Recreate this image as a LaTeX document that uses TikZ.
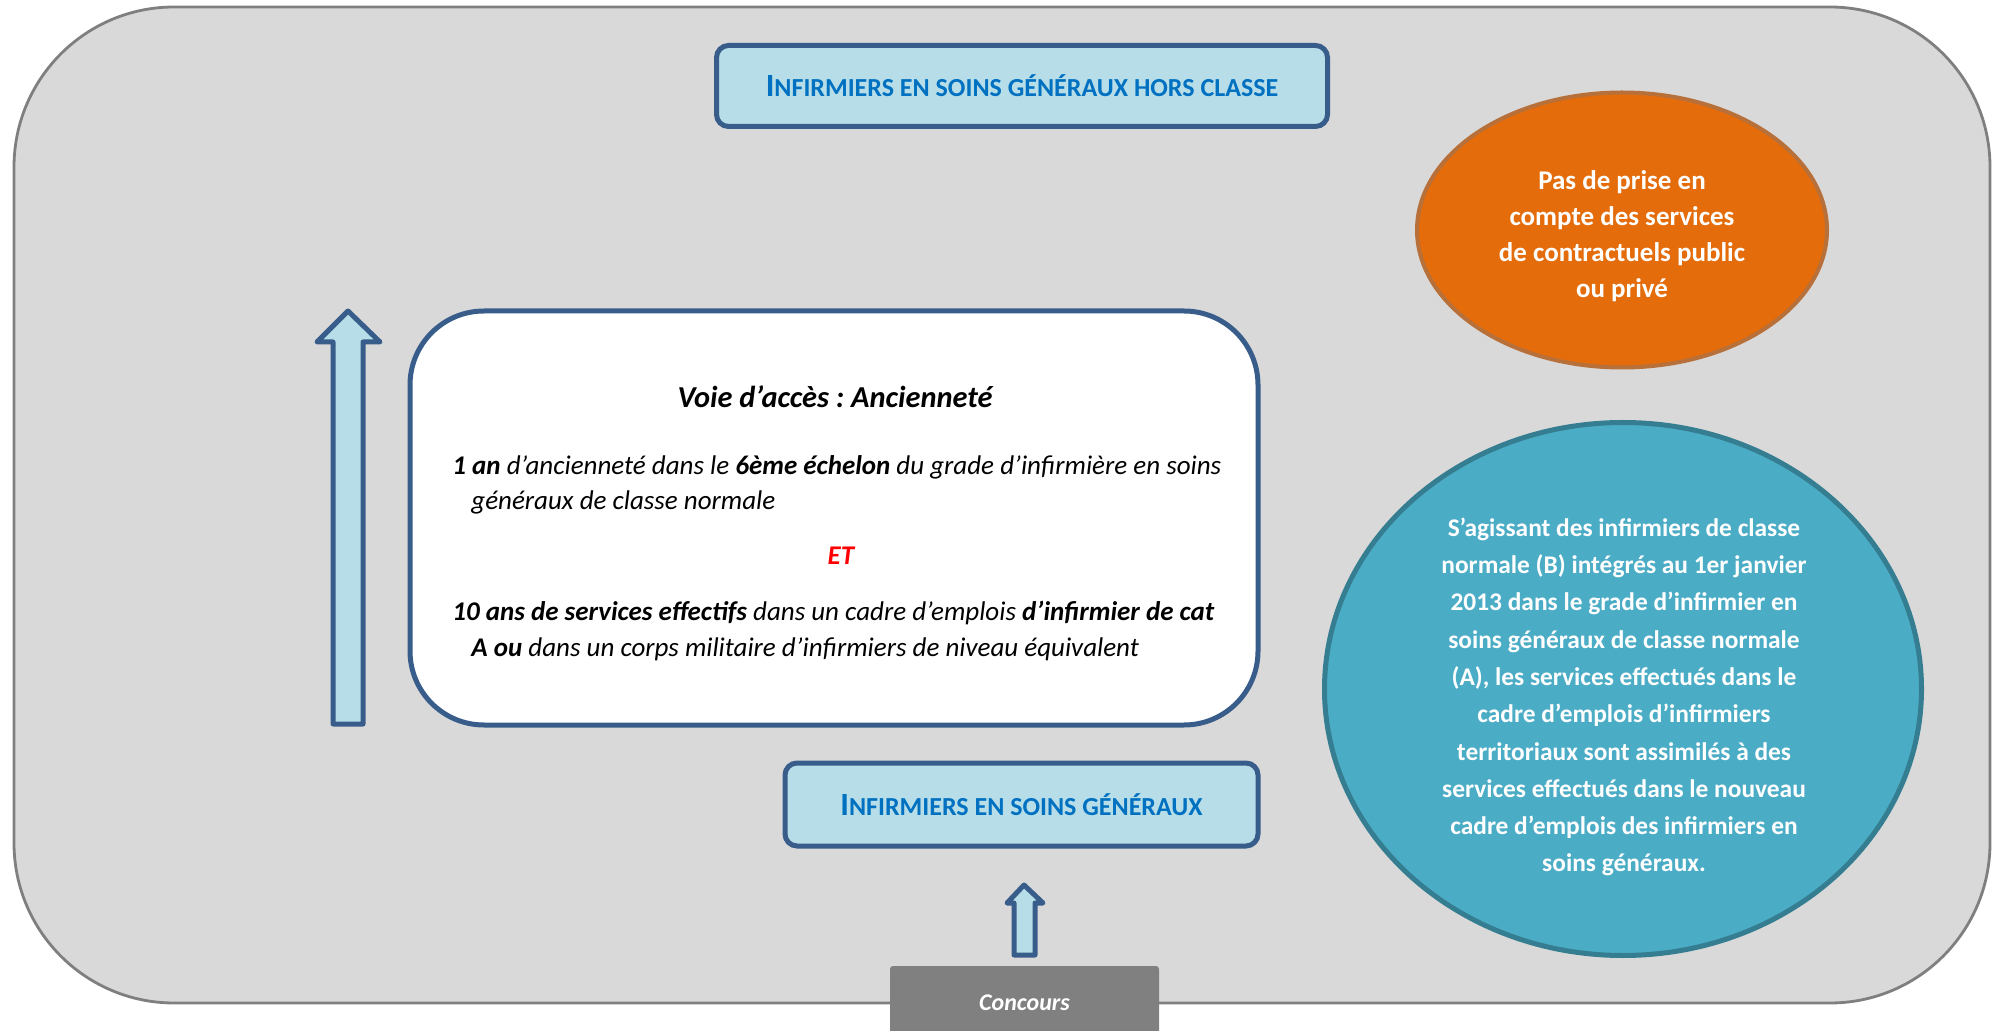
\documentclass[tikz,border=0pt]{standalone}
\usepackage{fontspec}
\setmainfont{Carlito}
\usetikzlibrary{shapes.geometric}
\frenchspacing
\definecolor{framefill}{HTML}{D9D9D9}
\definecolor{frameline}{HTML}{7F7F7F}
\definecolor{boxfill}{HTML}{B7DEE8}
\definecolor{boxline}{HTML}{385D8A}
\definecolor{titleblue}{HTML}{0070C0}
\definecolor{orangefill}{HTML}{E46C0A}
\definecolor{orangeline}{HTML}{B8703A}
\definecolor{tealfill}{HTML}{4BACC6}
\definecolor{tealline}{HTML}{357D91}
\definecolor{concoursfill}{HTML}{808080}
\definecolor{etred}{HTML}{FF0000}
\newcommand{\fakesmallcaps}[2]{{\fontsize{16.2}{19}\selectfont #1}{\fontsize{13}{15}\selectfont #2}}
\tikzset{
  gradebox/.style={draw=boxline, fill=boxfill, line width=2.5pt, rounded corners=6pt,
    inner sep=0pt, text=titleblue, font=\bfseries},
  mainbox/.style={draw=boxline, fill=white, line width=2.5pt, rounded corners=37pt, inner sep=0pt},
  blockarrow/.style={draw=boxline, fill=boxfill, line width=2.5pt, line join=round},
  bodyline/.style={anchor=base west, inner sep=0pt, font=\itshape\fontsize{13.5}{15}\selectfont},
  bubble/.style={ellipse, inner sep=0pt},
  bubbletext/.style={inner sep=0pt, align=center, text=white},
}
\begin{document}
\begin{tikzpicture}[x=0.5pt,y=-0.5pt]
\useasboundingbox (0,0) rectangle (1992,1031);
\clip (0,0) rectangle (1992,1031);
% outer frame
\draw[fill=framefill, draw=frameline, line width=1.4pt, rounded corners=80pt] (14,7) rectangle (1990,1003);

% grade boxes
\node[gradebox, minimum width=305.5pt, minimum height=40.5pt] (hors) at (1022,86)
  {\fakesmallcaps{I}{NFIRMIERS EN SOINS GÉNÉRAUX HORS CLASSE}};
\node[gradebox, minimum width=236.5pt, minimum height=41.5pt] (normal) at (1021.5,804.5)
  {\fakesmallcaps{I}{NFIRMIERS EN SOINS GÉNÉRAUX}};

% main box
\node[mainbox, minimum width=424pt, minimum height=207pt] (voie) at (834,518) {};
\node[inner sep=0pt, font=\bfseries\itshape\fontsize{15.2}{17}\selectfont] (titre) at (835,397) {Voie d’accès : Ancienneté};
\node[bodyline] (c1a) at (452,475) {\textbf{1 an} d’ancienneté dans le \textbf{6ème échelon} du grade d’infirmière en soins};
\node[bodyline] (c1b) at (471,510) {généraux de classe normale};
\node[inner sep=0pt, text=etred, font=\bfseries\itshape\fontsize{13.5}{15}\selectfont] (et) at (841,556) {ET};
\node[bodyline] (c2a) at (452,621) {\textbf{10 ans de services effectifs} dans un cadre d{\char39}emplois \textbf{d’infirmier de cat}};
\node[bodyline] (c2b) at (471,657) {\textbf{A ou} dans un corps militaire d’infirmiers de niveau équivalent};

% left block arrow
\draw[blockarrow] (333,724) -- (333,342) -- (317,342) -- (348,311) -- (380,342) -- (363,342) -- (363,724) -- cycle;

% bubbles
\node[bubble, draw=orangeline, fill=orangefill, line width=2pt,
  minimum width=205pt, minimum height=137.5pt] (orange) at (1622,230) {};
\node[bubbletext, font=\bfseries\fontsize{13.5}{18}\selectfont] (orangetext) at (1622,236)
  {Pas de prise en\\compte des services\\de contractuels public\\ou privé};
\node[bubble, draw=tealline, fill=tealfill, line width=2.5pt,
  minimum width=298.5pt, minimum height=266.5pt] (teal) at (1623,689) {};
\node[bubbletext, font=\bfseries\fontsize{12.7}{18.65}\selectfont] (tealtext) at (1624,697)
  {S’agissant des infirmiers de classe\\normale (B) intégrés au 1er janvier\\2013 dans le grade d’infirmier en\\soins généraux de classe normale\\(A), les services effectués dans le\\cadre d’emplois d’infirmiers\\territoriaux sont assimilés à des\\services effectués dans le nouveau\\cadre d’emplois des infirmiers en\\soins généraux.};

% concours
\node[fill=concoursfill, rounded corners=1.5pt, minimum width=134.5pt, minimum height=37pt,
  inner sep=0pt, text=white, font=\bfseries\itshape\fontsize{12}{14}\selectfont] (concours) at (1024.5,1003) {Concours};
\draw[blockarrow] (1014,955) -- (1014,903) -- (1007,903) -- (1024,885) -- (1043,903) -- (1035,903) -- (1035,955) -- cycle;
\end{tikzpicture}
\end{document}
